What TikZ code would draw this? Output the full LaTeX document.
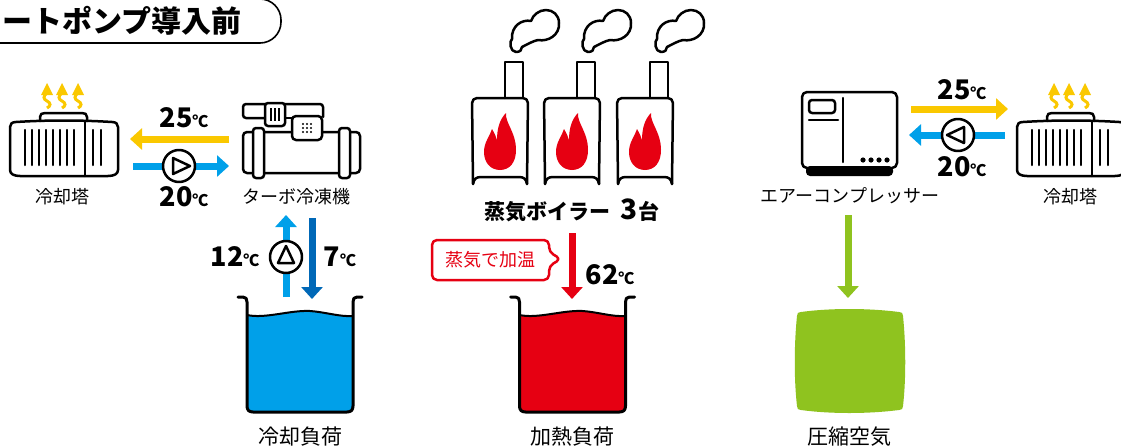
\documentclass[tikz,border=0pt]{standalone}
\usepackage{fontspec}
\newfontfamily\jp{Noto Sans CJK JP}
\usetikzlibrary{arrows.meta}

\definecolor{warm}{RGB}{250,200,0}
\definecolor{kalt}{RGB}{0,160,233}
\definecolor{tief}{RGB}{0,104,183}
\definecolor{feuer}{RGB}{230,0,18}
\definecolor{luft}{RGB}{143,195,31}

\tikzset{
  icon/.style={line width=2.5pt, line join=round, line cap=round},
  flow/.style={line width=7pt, -{Triangle[length=12pt,width=21pt]}},
  txt/.style={inner sep=0pt, font=\jp\fontsize{18}{18}\selectfont},
  last/.style={inner sep=0pt, font=\jp\fontsize{21}{21}\selectfont},
  temp/.style={inner sep=0pt, font=\jp\bfseries\fontsize{27}{27}\selectfont},
  pumpe/.pic={
    \draw[icon, fill=white] (0,0) circle (16);
    \draw[icon] (-6,-8) -- (11,0) -- (-6,8) -- cycle;
  },
}
\newcommand\gradC{{\fontsize{16}{16}\selectfont ℃}}

\begin{document}
\begin{tikzpicture}[x=1pt,y=-1pt]
		\clip (0,0) rectangle (1121,447);
		
		% Titel
		\draw[line width=1.6pt, rounded corners=21pt] (-40,-1) rectangle (281,43);
		\node[inner sep=0pt, font=\jp\bfseries\fontsize{30}{30}\selectfont] (titel) at (122,21) {ートポンプ導入前};
		
		% Kühltürme
		\foreach \dx in {0,1007}{
			\begin{scope}[shift={(\dx,0)}]
				\draw[icon] (20,176) .. controls (14,176) and (10,174) .. (10,170) -- (10,127) .. controls (10,124) and (12,122) .. (16,122) .. controls (48,120) and (80,120) .. (112,122) .. controls (116,122) and (118,124) .. (118,127) -- (118,170) .. controls (118,174) and (114,176) .. (108,176) -- cycle;
				\draw[icon] (40,121) -- (40,117) .. controls (40,114) and (42,113) .. (45,113) -- (82,113) .. controls (85,113) and (87,114) .. (87,117) -- (87,121);
				\foreach \x in {25,32,...,74}
				\draw[icon] (\x,130) -- (\x,165);
				\draw[icon] (85,122) -- (85,176);
				\foreach \x in {93,101}
				\draw[icon] (\x,130) -- (\x,165);
				% Abwärme
				\foreach \x in {47,62,78}{
					\draw[warm, line width=3pt] (\x,108) .. controls (\x+4,106) and (\x+4,103) .. (\x,101) .. controls (\x-4,99) and (\x-4,96) .. (\x,93);
					\fill[warm] (\x-6,95) -- (\x,83) -- (\x+6,95) -- cycle;
				}
			\end{scope}
		}
		\node[txt] (turm-l) at (62,197) {冷却塔};
		\node[txt] (turm-r) at (1070,197) {冷却塔};
		
		% Turbokältemaschine
		\draw[icon, rounded corners=3pt] (265,118) -- (243,118) -- (243,104) -- (323,104) -- (323,117);
		\draw[icon] (285,118) -- (292,118);
		\draw[icon, fill=white, rounded corners=4pt] (243,132) rectangle (360,173);
		\draw[icon, fill=white, rounded corners=3pt] (253,128) rectangle (264,178);
		\draw[icon, fill=white, rounded corners=3pt] (339,128) rectangle (350,178);
		\draw[icon, fill=white, rounded corners=3pt] (265,103) rectangle (285,126);
		\foreach \x in {271,275,279}
		\draw[line width=1.8pt] (\x,108) -- (\x,121);
		\draw[icon, fill=white, rounded corners=4pt] (292,116) rectangle (322,140);
		\foreach \x in {303,307,311}
		\foreach \y in {124,128,132}
		\fill (\x,\y) circle (1.2);
		\node[txt] (kaelte) at (296,197) {ターボ冷凍機};
		
		% Kühlwasser
		\coordinate (gelb-a) at (229,139);
		\coordinate (gelb-b) at (130,139);
		\coordinate (blau-a) at (133,166);
		\coordinate (blau-b) at (229,166);
		\draw[flow, warm] (gelb-a) -- (gelb-b);
		\draw[flow, kalt] (blau-a) -- (blau-b);
		\pic at (179,166) {pumpe};
		\node[temp] (t25-l) at (184,118) {25\gradC};
		\node[temp] (t20-l) at (184,197) {20\gradC};
		
		% Kaltwasser
		\coordinate (vor-a) at (286,297);
		\coordinate (vor-b) at (286,215);
		\coordinate (rueck-a) at (312,218);
		\coordinate (rueck-b) at (312,299);
		\draw[flow, kalt] (vor-a) -- (vor-b);
		\draw[flow, tief] (rueck-a) -- (rueck-b);
		\pic[rotate=90] at (286,257) {pumpe};
		\node[temp] (t12) at (235,257) {12\gradC};
		\node[temp] (t7) at (340,257) {7\gradC};
		
		% Dampfkessel
		\foreach \dx in {0,72,145}{
			\begin{scope}[shift={(\dx,0)}]
				% Dampfwolke
				\draw[icon, fill=white] (522,47) .. controls (528,44) and (533,41) .. (538,40) .. controls (548,42) and (560,35) .. (559,23) .. controls (559,15) and (553,10) .. (546,10) .. controls (539,10) and (533,15) .. (531,21) .. controls (522,19) and (511,26) .. (512,39) .. controls (509,41) and (510,52) .. (516,52) .. controls (520,52) and (522,50) .. (522,47) -- cycle;
				\draw[icon] (505,98) -- (505,62) -- (523,62) -- (523,98);
				\draw[icon, rounded corners=5pt] (473,184) -- (472,98) -- (528,98) -- (527,184);
				\draw[icon] (473,184) .. controls (474,179) and (476,177) .. (481,177) -- (519,177) .. controls (524,177) and (526,179) .. (527,184);
				\fill[feuer] (500,170) .. controls (490,170) and (484,162) .. (484,152) .. controls (484,142) and (490,136) .. (492,129) .. controls (495,134) and (496,137) .. (497,140) .. controls (497,128) and (500,119) .. (506,113) .. controls (505,123) and (516,132) .. (516,150) .. controls (516,162) and (510,170) .. (500,170) -- cycle;
			\end{scope}
		}
		\node[inner sep=0pt, font=\jp\bfseries\fontsize{21}{21}\selectfont] (kessel) at (572,210) {蒸気ボイラー\hspace{10pt}{\fontsize{28}{28}\selectfont 3}台};
		
		% Dampf
		\coordinate (dampf-a) at (572,233);
		\coordinate (dampf-b) at (572,299);
		\draw[flow, feuer] (dampf-a) -- (dampf-b);
		\draw[feuer, line width=2.5pt, fill=white, line join=round, rounded corners=5pt] (432,240) -- (549,240) -- (549,252) -- (561,259) -- (549,266) -- (549,280) -- (432,280) -- cycle;
		\node[txt, text=feuer] (hinweis) at (490,260) {蒸気で加温};
		\node[temp] (t62) at (610,275) {62\gradC};
		
		% Lastbehälter
		\foreach \dx/\farbe in {0/kalt,272.5/feuer}{
			\begin{scope}[shift={(\dx,0)}]
				\fill[\farbe] (247,315) .. controls (265,319) and (290,310) .. (310,311) .. controls (325,312) and (340,317) .. (353,316) -- (353,406) .. controls (353,410) and (351,412) .. (347,412) -- (253,412) .. controls (249,412) and (247,410) .. (247,406) -- cycle;
				\draw[line width=2pt] (247,315) .. controls (265,319) and (290,310) .. (310,311) .. controls (325,312) and (340,317) .. (353,316);
				\draw[line width=3pt, line join=round, line cap=round] (238,297) -- (243,297) .. controls (246,297) and (247,299) .. (247,302) -- (247,406) .. controls (247,410) and (249,412) .. (253,412) -- (347,412) .. controls (351,412) and (353,410) .. (353,406) -- (353,302) .. controls (353,299) and (354,297) .. (357,297) -- (362,297);
			\end{scope}
		}
		\node[last] (kuehllast) at (300,437) {冷却負荷};
		\node[last] (heizlast) at (572,437) {加熱負荷};
		
		% Kompressor
		\draw[icon, rounded corners=5pt] (802,92) rectangle (897,168);
		\fill[rounded corners=4pt] (806,166) rectangle (893,176);
		\draw[icon, rounded corners=3pt] (809,100) rectangle (835,113);
		\draw[icon] (809,120) -- (838,120);
		\draw[icon] (843,98) -- (843,162);
		\foreach \x in {863,871,879,887}
		\fill (\x,160) circle (2.6);
		\node[txt] (kompressor) at (850,196) {エアーコンプレッサー};
		
		% Kühlwasser rechts
		\coordinate (gelb-c) at (911,109);
		\coordinate (gelb-d) at (1008,109);
		\coordinate (blau-c) at (1005,135);
		\coordinate (blau-d) at (909,135);
		\draw[flow, warm] (gelb-c) -- (gelb-d);
		\draw[flow, kalt] (blau-c) -- (blau-d);
		\pic[rotate=180] at (958,135) {pumpe};
		\node[temp] (t25-r) at (962,90) {25\gradC};
		\node[temp] (t20-r) at (962,167) {20\gradC};
		
		% Druckluft
		\coordinate (luft-a) at (848,215);
		\coordinate (luft-b) at (848,298);
		\draw[flow, luft] (luft-a) -- (luft-b);
		\fill[luft] (801,312) .. controls (830,308) and (868,308) .. (899,312) .. controls (902,312) and (903,313) .. (903,316) .. controls (906,345) and (906,380) .. (903,406) .. controls (903,409) and (902,410) .. (899,410) .. controls (868,414) and (830,414) .. (801,410) .. controls (798,410) and (797,409) .. (797,406) .. controls (794,380) and (794,345) .. (797,316) .. controls (797,313) and (798,312) .. (801,312) -- cycle;
		\node[last] (druckluft) at (849,437) {圧縮空気};
	\end{tikzpicture}
\end{document}
